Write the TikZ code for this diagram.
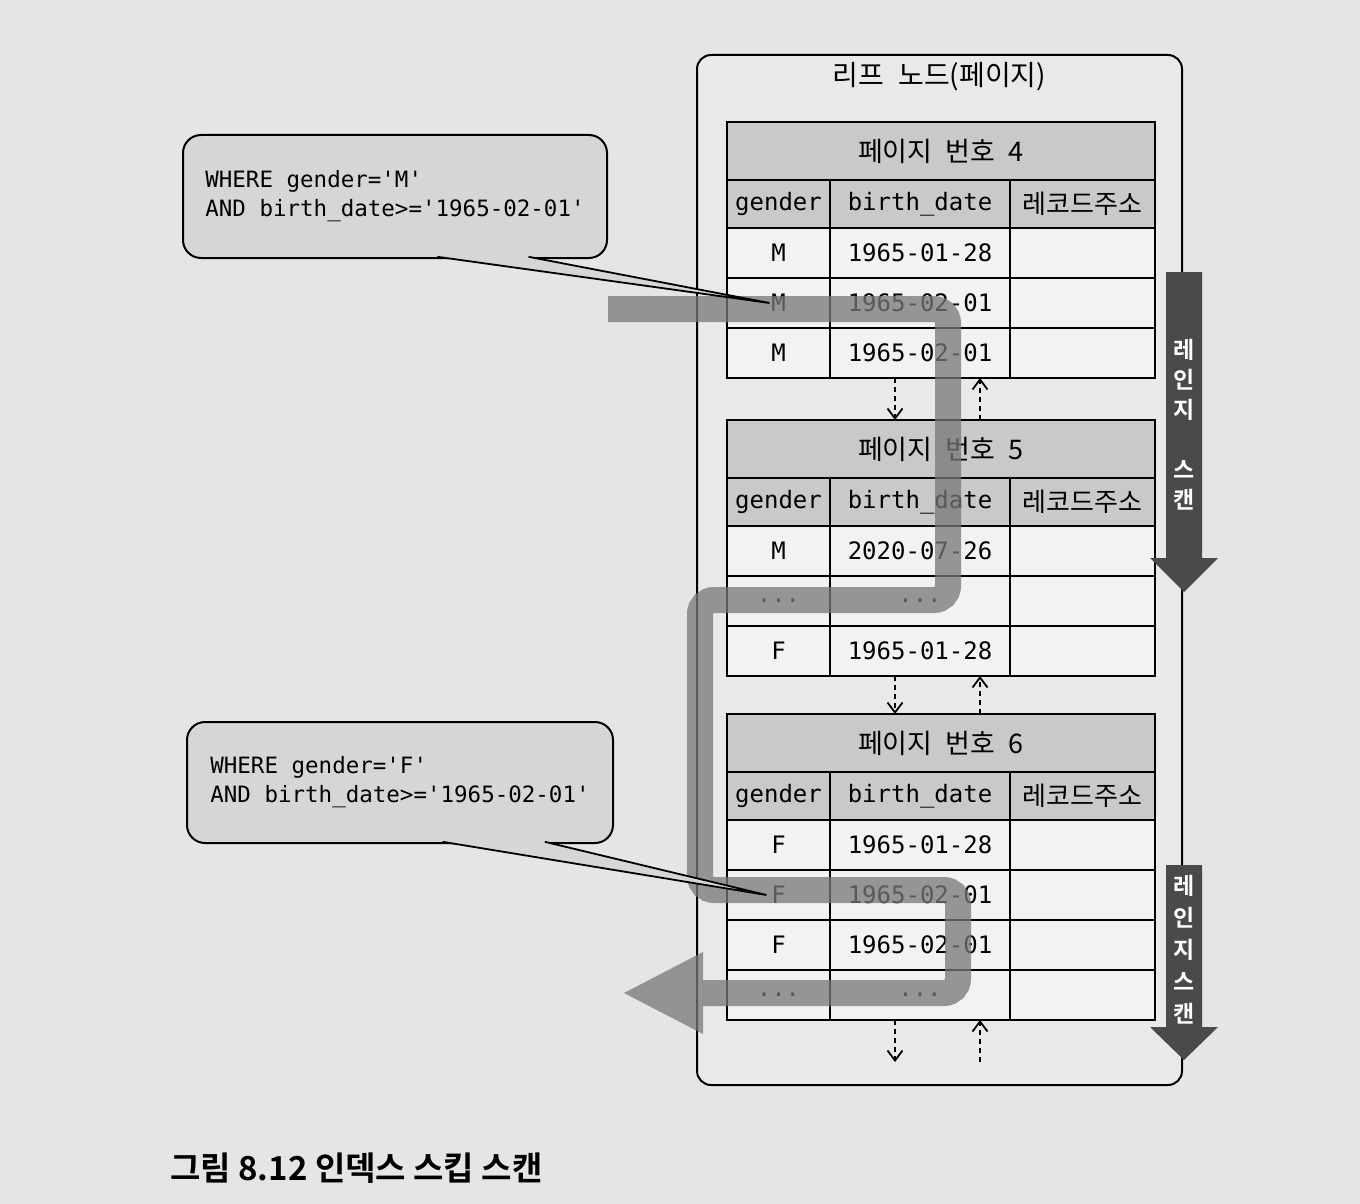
\documentclass[tikz,border=0pt]{standalone}
\usepackage{fontspec}
\setmonofont{DejaVu Sans Mono}
\newfontfamily\kr[BoldFont={Noto Sans CJK KR Bold}]{Noto Sans CJK KR}
\newfontfamily\krm[WordSpace=2.2]{Noto Sans CJK KR}
\usetikzlibrary{positioning,calc,arrows.meta}

\definecolor{pagebg}{HTML}{E5E5E5}
\definecolor{boxbg}{HTML}{E9E9E9}
\definecolor{cellbg}{HTML}{F2F2F2}
\definecolor{headbg}{HTML}{C9C9C9}
\definecolor{notebg}{HTML}{D6D6D6}
\definecolor{bandcol}{HTML}{777777}
\definecolor{scancol}{HTML}{4A4A4A}

\newcommand{\etcrow}{...}

\tikzset{
  leafbox/.style={draw, line width=2pt, rounded corners=14pt, fill=boxbg, minimum width=485pt, minimum height=1030pt, anchor=north west, inner sep=0pt, outer sep=0pt},
  cell/.style={draw, line width=2pt, fill=cellbg, minimum height=50pt, inner sep=0pt, outer sep=0pt, anchor=north west, font=\fontsize{24}{26}\selectfont\ttfamily},
  headcell/.style={cell, fill=headbg, minimum height=48pt},
  titlecell/.style={cell, fill=headbg, minimum height=58pt, minimum width=428pt, font=\fontsize{27}{30}\selectfont\krm},
  krcell/.style={font=\fontsize{26}{28}\selectfont\krm},
  gcol/.style={minimum width=103pt},
  dcol/.style={minimum width=180pt},
  acol/.style={minimum width=145pt},
  note/.style={draw, line width=2pt, rounded corners=18pt, fill=notebg, anchor=north west, align=left, inner sep=0pt, outer sep=0pt, font=\fontsize{22.5}{29}\selectfont\ttfamily},
  pointer/.style={fill=notebg, line width=1.8pt, line join=bevel},
  band/.style={draw=bandcol, line width=26pt, rounded corners=14pt, opacity=0.75},
  scantext/.style={text=white, align=center, inner sep=0pt, font=\fontsize{23}{30}\selectfont\kr\bfseries},
  link/.style={line width=1.6pt, dash pattern=on 5pt off 4pt, -{Straight Barb[length=10pt, width=15pt, line width=1.8pt]}}
}

\begin{document}
\begin{tikzpicture}[x=1pt, y=-1pt]
    \fill[pagebg] (0,0) rectangle (1360,1204);
    \useasboundingbox (0,0) rectangle (1360,1204);

    % 리프 노드
    \node[leafbox] (leaf) at (697,55) {};
    \node[font=\fontsize{28}{32}\selectfont\krm, anchor=north] (leaftitle) at ([yshift=-4pt]leaf.north) {리프 노드(페이지)};

    % 페이지 번호 4
    \node[titlecell] (p4) at (727,122) {페이지 번호 4};
    \node[headcell, gcol] (p4-0-1) at (p4.south west) {gender};
    \node[headcell, dcol] (p4-0-2) at (p4-0-1.north east) {birth\_date};
    \node[headcell, acol, krcell] (p4-0-3) at (p4-0-2.north east) {레코드주소};
    \foreach \gen/\bd [count=\i, remember=\i as \j (initially 0)] in {M/1965-01-28, M/1965-02-01, M/1965-02-01} {
        \node[cell, gcol] (p4-\i-1) at (p4-\j-1.south west) {\gen};
        \node[cell, dcol] (p4-\i-2) at (p4-\i-1.north east) {\bd};
        \node[cell, acol] (p4-\i-3) at (p4-\i-2.north east) {};
    }

    % 페이지 번호 5
    \node[titlecell] (p5) at (727,420) {페이지 번호 5};
    \node[headcell, gcol] (p5-0-1) at (p5.south west) {gender};
    \node[headcell, dcol] (p5-0-2) at (p5-0-1.north east) {birth\_date};
    \node[headcell, acol, krcell] (p5-0-3) at (p5-0-2.north east) {레코드주소};
    \foreach \gen/\bd [count=\i, remember=\i as \j (initially 0)] in {M/2020-07-26, \etcrow/\etcrow, F/1965-01-28} {
        \node[cell, gcol] (p5-\i-1) at (p5-\j-1.south west) {\gen};
        \node[cell, dcol] (p5-\i-2) at (p5-\i-1.north east) {\bd};
        \node[cell, acol] (p5-\i-3) at (p5-\i-2.north east) {};
    }

    % 페이지 번호 6
    \node[titlecell] (p6) at (727,714) {페이지 번호 6};
    \node[headcell, gcol] (p6-0-1) at (p6.south west) {gender};
    \node[headcell, dcol] (p6-0-2) at (p6-0-1.north east) {birth\_date};
    \node[headcell, acol, krcell] (p6-0-3) at (p6-0-2.north east) {레코드주소};
    \foreach \gen/\bd [count=\i, remember=\i as \j (initially 0)] in {F/1965-01-28, F/1965-02-01, F/1965-02-01, \etcrow/\etcrow} {
        \node[cell, gcol] (p6-\i-1) at (p6-\j-1.south west) {\gen};
        \node[cell, dcol] (p6-\i-2) at (p6-\i-1.north east) {\bd};
        \node[cell, acol] (p6-\i-3) at (p6-\i-2.north east) {};
    }

    % 페이지 사이 링크
    \coordinate (end6) at ([yshift=-42pt]p6-4-1.south west);
    \draw[link] ([xshift=168pt]p4-3-1.south west) -- ([xshift=168pt]p5.north west);
    \draw[link] ([xshift=253pt]p5.north west) -- ([xshift=253pt]p4-3-1.south west);
    \draw[link] ([xshift=168pt]p5-3-1.south west) -- ([xshift=168pt]p6.north west);
    \draw[link] ([xshift=253pt]p6.north west) -- ([xshift=253pt]p5-3-1.south west);
    \draw[link] ([xshift=168pt]p6-4-1.south west) -- ([xshift=168pt]end6);
    \draw[link] ([xshift=253pt]end6) -- ([xshift=253pt]p6-4-1.south west);

    % 스킵 경로
    \draw[band] (608,309) -- (948,309) -- (948,600) -- (700,600) -- (700,890) -- (958,890) -- (958,993) -- (703,993);
    \fill[bandcol, opacity=0.75] (703,952) -- (624,993) -- (703,1034) -- cycle;

    % 조건
    \node[note, minimum width=424pt, minimum height=123pt] (qm) at (183,135) {WHERE gender='M'\\AND birth\_date>='1965-02-01'};
    \coordinate[yshift=1.2pt] (qm-a) at ($(qm.south west)!0.6!(qm.south east)$);
    \coordinate[yshift=1.2pt] (qm-b) at ($(qm.south west)!0.815!(qm.south east)$);
    \coordinate (qm-tip) at ([xshift=-9pt]p4-2-1.center);
    \draw[pointer] (qm-a) -- (qm-tip) -- (qm-b);

    \node[note, minimum width=426pt, minimum height=121pt] (qf) at (187,722) {WHERE gender='F'\\AND birth\_date>='1965-02-01'};
    \coordinate[yshift=1.2pt] (qf-a) at ($(qf.south west)!0.6!(qf.south east)$);
    \coordinate[yshift=1.2pt] (qf-b) at ($(qf.south west)!0.84!(qf.south east)$);
    \coordinate (qf-tip) at ([xshift=-12pt]p6-2-1.center);
    \draw[pointer] (qf-a) -- (qf-tip) -- (qf-b);

    % 레인지 스캔
    \fill[scancol] (1166,272) -- (1202,272) -- (1202,558) -- (1218,558) -- (1184,592) -- (1150,558) -- (1166,558) -- cycle;
    \node[scantext] (scan1) at (1184,425) {레\\인\\지\\[30pt]스\\캔};
    \fill[scancol] (1166,865) -- (1202,865) -- (1202,1027) -- (1218,1027) -- (1184,1060) -- (1150,1027) -- (1166,1027) -- cycle;
    \node[scantext, font=\fontsize{23}{32}\selectfont\kr\bfseries] (scan2) at (1184,950) {레\\인\\지\\스\\캔};

    % 캡션
    \node[font=\kr\bfseries\fontsize{33}{36}\selectfont, anchor=west, inner sep=0pt] (caption) at (170,1168) {그림 8.12 인덱스 스킵 스캔};
\end{tikzpicture}
\end{document}
